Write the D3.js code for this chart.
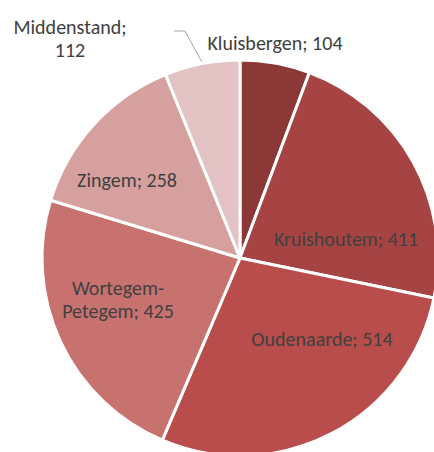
<!DOCTYPE html>
<html><head><meta charset="utf-8">
<script src="https://cdn.jsdelivr.net/npm/d3@7"></script>
<style>body{margin:0;background:#fff}svg{display:block}</style>
</head><body>
<svg id="c" width="434" height="452"></svg>
<script>
const categories = ["Kluisbergen", "Kruishoutem", "Oudenaarde", "Wortegem-Petegem", "Zingem", "Middenstand"];
const values = [104, 411, 514, 425, 258, 112];
const colors = ["#8C3836", "#A54442", "#B84D4B", "#C87270", "#D6A09F", "#E2C2C3"];
const labelLines = [["Kluisbergen; 104"], ["Kruishoutem; 411"], ["Oudenaarde; 514"], ["Wortegem-", "Petegem; 425"], ["Zingem; 258"], ["Middenstand;", "112"]];
// label anchor offsets from pie centre (px)
const labelOffsets = [[35, -215], [106, -19], [82, 81], [-122, 41], [-113, -78], [-170, -220]];

const W = 434, H = 452, cx = 240, cy = 258, R = 198;
const svg = d3.select("#c");
const g = svg.append("g").attr("transform", `translate(${cx},${cy})`);
const data = categories.map((c, i) => ({c, v: values[i], i}));
const pie = d3.pie().value(d => d.v).sort(null);
const arc = d3.arc().innerRadius(0).outerRadius(R);
const arcs = pie(data);
g.selectAll("path").data(arcs).enter().append("path")
  .attr("d", arc).attr("fill", d => colors[d.data.i])
  .attr("stroke", "#fff").attr("stroke-width", 3).attr("stroke-linejoin", "round");

// leader line for Middenstand
const m = arcs[5];
const mid = (m.startAngle + m.endAngle) / 2;
const p0 = [Math.sin(mid) * (R + 2), -Math.cos(mid) * (R + 2)];
g.append("polyline")
  .attr("points", [[p0[0], p0[1]], [-55, -227], [-66, -227]].map(p => p.join(",")).join(" "))
  .attr("fill", "none").attr("stroke", "#A6A6A6").attr("stroke-width", 1);

const fs = 20, lh = 23;
arcs.forEach((a, i) => {
  const lines = labelLines[i];
  const [ox, oy] = labelOffsets[i];
  const t = g.append("text").attr("text-anchor", "middle")
    .attr("font-family", "Carlito, Lato, 'Open Sans', sans-serif").attr("font-size", fs)
    .attr("fill", "#404040");
  const y0 = oy - (lines.length - 1) * lh / 2;
  lines.forEach((l, k) => {
    t.append("tspan").attr("x", ox).attr("y", y0 + k * lh).attr("dy", "0.35em").text(l);
  });
});
</script>
</body></html>
